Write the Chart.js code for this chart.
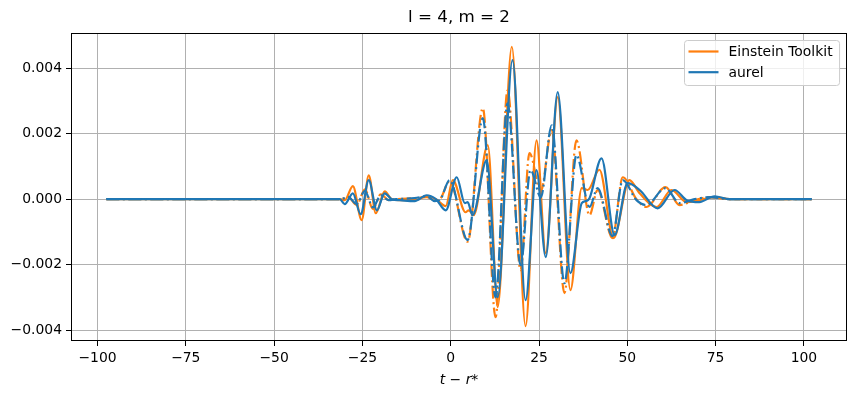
<!DOCTYPE html>
<html>
<head>
<meta charset="utf-8">
<script src="https://cdn.jsdelivr.net/npm/chart.js@4.4.0/dist/chart.umd.min.js"></script>
<style>
  body { margin: 0; background: #fff; }
  canvas { display: block; }
</style>
</head>
<body>
<canvas id="grafica" width="855" height="398"></canvas>
<script>
// ---- datos (l = 4, m = 2) ----
// parte real (linea continua) e imaginaria (linea punto-raya)
const tEtRe = [-97.5, -31.4, -30.0, -27.7, -25.2, -23.2, -21.2, -18.7, -16.7, -14.4, -10.2, -6.8, -4.2, -1.4, 0.6, 4.2, 5.1, 6.5, 10.5, 13.3, 17.3, 21.2, 24.3, 26.9, 30.3, 33.9, 37.1, 38.8, 42.1, 46.1, 50.6, 53.5, 58.3, 62.5, 66.8, 70.4, 74.7, 79.0, 102.2];
const hEtRe = [0, 0, -0.00003, 0.0004, -0.00064, 0.00073, -0.00043, 0.00024, 0, -0.00003, -0.00003, 0.00009, 0, -0.00021, 0.00058, -0.0004, -0.00034, -0.00049, 0.00165, -0.0033, 0.00466, -0.00388, 0.0018, -0.00165, 0.00312, -0.00278, 0.00034, 0.00028, 0.0009, -0.00119, 0.00058, 0.00018, -0.00024, 0.00028, -0.00009, -0.00003, 0.00006, 0, 0];

const tEtIm = [-97.5, -31.4, -29.0, -26.6, -24.3, -22.0, -19.8, -17.5, -15.5, -10.2, -6.8, -4.5, -3.1, -0.3, 4.8, 9.1, 12.7, 16.1, 19.8, 22.3, 25.5, 28.6, 32.2, 35.6, 39.3, 41.6, 45.8, 48.7, 52.6, 55.4, 60.8, 64.8, 69.0, 73.3, 79.0, 102.2];
const hEtIm = [0, 0, 0.00006, -0.00018, 0.0003, -0.0003, 0.00015, -0.00003, 0, 0.00003, 0.00006, -0.00003, 0, 0.00055, -0.0013, 0.00278, -0.00361, 0.00333, -0.00217, 0.00141, 0.00024, 0.00211, -0.00287, 0.0018, -0.00049, 0.00028, -0.00119, 0.00067, 0, -0.00024, 0.00037, -0.00018, -0.00003, 0.00006, 0, 0];

const tAurelRe = [-97.5, -31.4, -30.0, -27.7, -25.5, -23.2, -20.9, -18.7, -16.7, -14.4, -10.2, -6.8, -4.2, -1.4, 1.7, 4.0, 4.8, 6.2, 10.2, 13.3, 17.5, 21.2, 24.3, 26.9, 30.3, 33.9, 37.1, 38.2, 39.3, 42.7, 46.4, 50.1, 53.5, 58.6, 63.4, 66.8, 70.4, 74.7, 79.0, 102.2];
const hAurelRe = [0, 0, -0.00015, 0.00018, -0.00046, 0.00058, -0.00034, 0.00018, 0, -0.00003, -0.00006, 0.00012, 0, -0.00034, 0.00067, -0.00012, -0.00009, -0.00049, 0.00119, -0.003, 0.00425, -0.00309, 0.00089, -0.00177, 0.00327, -0.00226, -0.00012, -0.00006, 0.00003, 0.00125, -0.0011, 0.00049, 0.00028, -0.00028, 0.00028, -0.00003, -0.00009, 0.00009, 0, 0];

const tAurelIm = [-97.5, -31.4, -29.0, -26.6, -24.3, -22.0, -19.8, -17.5, -15.5, -10.2, -6.8, -4.5, -3.1, -0.3, 4.8, 9.1, 12.7, 16.1, 19.8, 22.6, 25.5, 28.6, 32.2, 35.6, 39.3, 41.6, 45.8, 48.7, 52.6, 55.4, 60.8, 64.8, 69.0, 73.3, 79.0, 102.2];
const hAurelIm = [0, 0, 0.00006, -0.00015, 0.00025, -0.00025, 0.00012, -0.00003, 0, 0.00003, 0.00009, -0.00006, -0.00003, 0.00058, -0.00125, 0.00248, -0.003, 0.00293, -0.00202, 0.00089, 0.00006, 0.00226, -0.00257, 0.00135, -0.00024, 0.00034, -0.00113, 0.00058, -0.00003, -0.00018, 0.00034, -0.00012, 0, 0.00006, 0, 0];

const nombres = ['Einstein Toolkit', 'aurel'];
const xTicks = [-100, -75, -50, -25, 0, 25, 50, 75, 100];
const yTicks = [-0.004, -0.002, 0, 0.002, 0.004];

const naranja = '#ff7f0e';
const azul = '#1f77b4';
const colores = [naranja, azul];
const guionPunto = [13, 3.5, 2, 3.5];
const fuente = '"DejaVu Sans"';

function puntos(ts, hs) {
  return ts.map((t, i) => ({ x: t, y: hs[i] }));
}

function menos(txt) {
  return String(txt).replace('-', '\u2212');
}

function serie(label, ts, hs, color, dash, orden) {
  return {
    label: label,
    data: puntos(ts, hs),
    borderColor: color,
    backgroundColor: color,
    borderWidth: 2.2,
    borderDash: dash,
    pointRadius: 0,
    fill: false,
    cubicInterpolationMode: 'monotone',
    order: orden,
  };
}

// marco negro alrededor del area y leyenda tipo matplotlib
const marcoYLeyenda = {
  id: 'marcoYLeyenda',
  afterDatasetsDraw(chart) {
    const ctx = chart.ctx;
    const ca = chart.chartArea;
    ctx.save();
    ctx.strokeStyle = '#000';
    ctx.lineWidth = 1;
    ctx.strokeRect(Math.round(ca.left) + 0.5, Math.round(ca.top) + 0.5,
                   Math.round(ca.right - ca.left) - 1, Math.round(ca.bottom - ca.top) - 1);

    ctx.font = '13.9px ' + fuente;
    let anchoTexto = 0;
    for (let n of nombres) {
      anchoTexto = Math.max(anchoTexto, ctx.measureText(n).width);
    }
    const w = 44 + anchoTexto + 7;
    const h = 45;
    const x0 = Math.round(ca.right - 8 - w) + 0.5;
    const y0 = Math.round(ca.top + 7) + 0.5;
    ctx.beginPath();
    ctx.roundRect(x0, y0, w, h, 3);
    ctx.fillStyle = 'rgba(255,255,255,0.8)';
    ctx.fill();
    ctx.strokeStyle = '#cccccc';
    ctx.stroke();

    nombres.forEach((n, i) => {
      const y = y0 + 11 + i * 20.7;
      ctx.strokeStyle = colores[i];
      ctx.lineWidth = 2.2;
      ctx.beginPath();
      ctx.moveTo(x0 + 4, y);
      ctx.lineTo(x0 + 34, y);
      ctx.stroke();
      ctx.fillStyle = '#000';
      ctx.textBaseline = 'middle';
      ctx.textAlign = 'left';
      ctx.fillText(n, x0 + 44, y + 1);
    });
    ctx.restore();
  }
};

const ctx = document.getElementById('grafica');

const chart = new Chart(ctx, {
  type: 'line',
  data: {
    datasets: [
      serie(nombres[0], tEtRe, hEtRe, naranja, [], 3),
      serie(nombres[0] + ' (Im)', tEtIm, hEtIm, naranja, guionPunto, 2),
      serie(nombres[1], tAurelRe, hAurelRe, azul, [], 1),
      serie(nombres[1] + ' (Im)', tAurelIm, hAurelIm, azul, guionPunto, 0),
    ]
  },
  options: {
    responsive: false,
    animation: false,
    devicePixelRatio: 1,
    layout: { padding: { left: 0, right: 8, top: 0, bottom: 0 } },
    plugins: {
      legend: { display: false },
      tooltip: { enabled: false },
      title: {
        display: true,
        fullSize: false,
        text: 'l = 4, m = 2',
        color: '#000',
        font: { family: fuente, size: 16.7, weight: 'normal' },
        padding: { top: 8, bottom: 5 },
      }
    },
    scales: {
      x: {
        type: 'linear',
        min: -107.5,
        max: 112.2,
        afterFit(scale) { scale.height = 57; },
        afterBuildTicks(scale) { scale.ticks = xTicks.map(v => ({ value: v })); },
        ticks: {
          color: '#000',
          font: { family: fuente, size: 13.9 },
          padding: 4,
          maxRotation: 0,
          callback: v => menos(v),
        },
        grid: { color: '#b0b0b0', lineWidth: 1, tickColor: '#000', tickLength: 5, tickWidth: 1 },
        border: { display: false },
        title: {
          display: true,
          text: 't \u2212 r*',
          color: '#000',
          font: { family: fuente, size: 13.9, style: 'italic' },
          padding: { top: 0, bottom: 9 },
        }
      },
      y: {
        type: 'linear',
        min: -0.004336,
        max: 0.005079,
        afterFit(scale) { scale.width = 71; },
        afterBuildTicks(scale) { scale.ticks = yTicks.map(v => ({ value: v })); },
        ticks: {
          color: '#000',
          font: { family: fuente, size: 13.9 },
          padding: 4,
          callback: v => menos(v.toFixed(3)),
        },
        grid: { color: '#b0b0b0', lineWidth: 1, tickColor: '#000', tickLength: 5, tickWidth: 1 },
        border: { display: false },
      }
    }
  },
  plugins: [marcoYLeyenda]
});
</script>
</body>
</html>
